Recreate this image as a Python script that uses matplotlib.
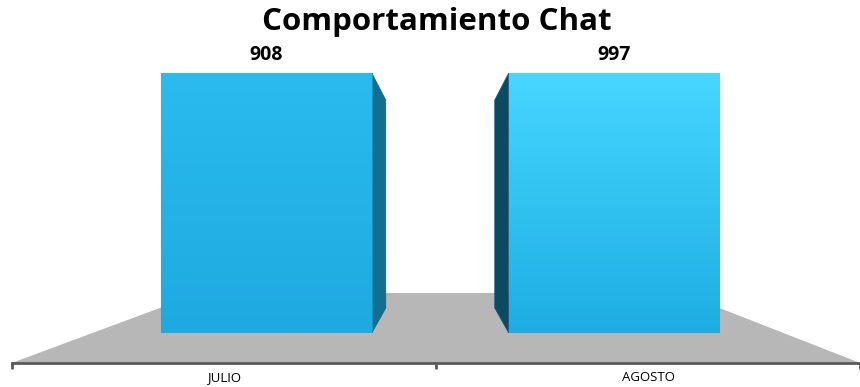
import numpy as np
import matplotlib
matplotlib.use("Agg")
import matplotlib.pyplot as plt
from matplotlib.patches import Polygon

months = ["JULIO", "AGOSTO"]
chats = [908, 997]
axis_max = 900  # value axis stops below both bars, so both are cut at the top

plt.rcParams["font.family"] = ["Open Sans", "DejaVu Sans"]

fig = plt.figure(figsize=(8.6, 3.87), dpi=100)
ax = fig.add_axes([12 / 860, 1 - 333 / 387, 848 / 860, 260 / 387])

# grey floor of the 3d look
floor = Polygon([(0, -0.115), (1, -0.115), (0.789, 0.154), (0.222, 0.154)],
                closed=True, transform=ax.transAxes, clip_on=False,
                facecolor="#b7b7b7", edgecolor="none", zorder=1)
ax.add_patch(floor)

shift = [0.1, -0.08]       # perspective pull towards the middle
width = 0.497
dx, dy_top, dy_bot = 0.033, 93.5, 86.5
tops = [("#2bbbee", "#1eaae0"), ("#46d6ff", "#1eade2")]
sides = ["#136f90", "#0d4a60"]

for i, v in enumerate(chats):
    c = i + shift[i]
    x0, x1 = c - width / 2, c + width / 2
    h = min(v, axis_max)
    b = ax.bar(c, v, width, color=tops[i][1], edgecolor="#1a8fc2",
               linewidth=0.8, zorder=3)[0]
    grad = np.linspace(0, 1, 100)[:, None]
    cmap = matplotlib.colors.LinearSegmentedColormap.from_list(
        "g%d" % i, [tops[i][1], tops[i][0]])
    im = ax.imshow(grad, extent=[x0, x1, 0, h], origin="lower", aspect="auto",
                   cmap=cmap, zorder=3.2)
    im.set_clip_path(b)
    if i == 0:
        pts = [(x1, h), (x1 + dx, h - dy_top), (x1 + dx, dy_bot), (x1, 0)]
    else:
        pts = [(x0, h), (x0 - dx, h - dy_top), (x0 - dx, dy_bot), (x0, 0)]
    ax.add_patch(Polygon(pts, closed=True, facecolor=sides[i],
                         edgecolor="#0f5f80", linewidth=0.5, zorder=2.9))
    ax.annotate(str(v), (c, h), xytext=(0, 13), textcoords="offset points",
                ha="center", va="center", fontsize=14, fontweight="bold",
                color="black")

ax.set_xlim(-0.5, 1.5)
ax.set_ylim(0, axis_max)

for s in ["top", "left", "right"]:
    ax.spines[s].set_visible(False)
ax.spines["bottom"].set_position(("axes", -30 / 260))
ax.spines["bottom"].set_color("#595959")
ax.spines["bottom"].set_linewidth(2)
ax.spines["bottom"].set_zorder(2)
ax.set_yticks([])
ax.set_xticks([0, 1])
ax.set_xticklabels(months, fontsize=9.5)
ax.set_xticks([-0.5, 0.5, 1.5], minor=True)
ax.tick_params(axis="x", which="major", length=0, pad=6)
ax.tick_params(axis="x", which="minor", length=4, width=2, color="#595959")
ax.patch.set_visible(False)

fig.text(437 / 860, 1 - 22 / 387, "Comportamiento Chat", ha="center",
         va="center", fontsize=22.5, fontweight="bold")

fig.savefig("out.png", dpi=100)
